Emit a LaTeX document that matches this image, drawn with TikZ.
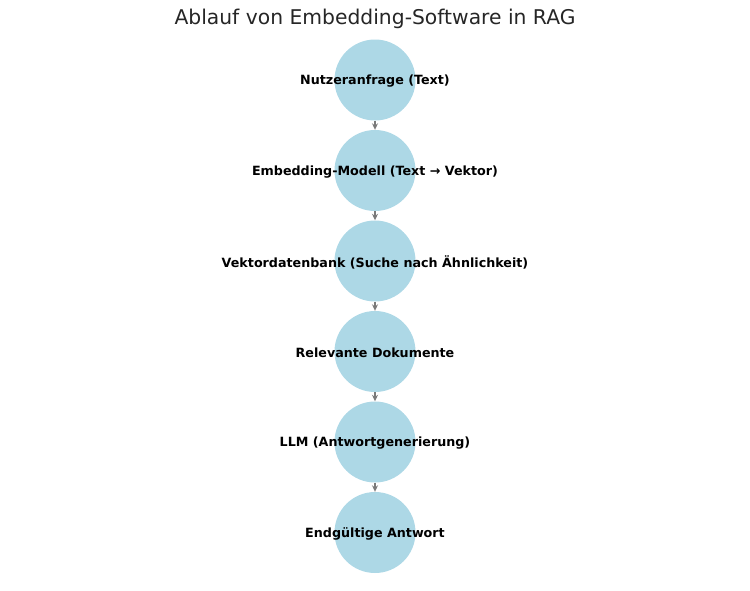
\documentclass[tikz,border=0pt]{standalone}
\usepackage{fontspec}
\setmainfont{DejaVu Sans}
\usetikzlibrary{arrows.meta}
\definecolor{lblue}{HTML}{ADD8E6}
\definecolor{edgegray}{HTML}{7A7A7A}
\begin{document}
\begin{tikzpicture}[x=1pt,y=-1pt,
  stage/.style={circle,fill=lblue,draw=none,minimum size=81pt,inner sep=0pt},
  lbl/.style={font=\fontsize{12.7}{15}\selectfont\bfseries,text=black,yshift=-1.5pt},
  conn/.style={draw=edgegray,line width=1.2pt,-{Stealth[length=6.5pt,width=6pt]}}]
\useasboundingbox (0,0) rectangle (750,590);
\node[font=\fontsize{20.3}{24}\selectfont,text={rgb,255:red,38;green,38;blue,38}] (title) at (375,19) {Ablauf von Embedding-Software in RAG};
\node[stage] (n1) at (375,80) {};
\node[stage] (n2) at (375,170.5) {};
\node[stage] (n3) at (375,261) {};
\node[stage] (n4) at (375,351.5) {};
\node[stage] (n5) at (375,442) {};
\node[stage] (n6) at (375,532.5) {};
\node[lbl] (t1) at (n1) {Nutzeranfrage (Text)};
\node[lbl] (t2) at (n2) {Embedding-Modell (Text → Vektor)};
\node[lbl] (t3) at (n3) {Vektordatenbank (Suche nach Ähnlichkeit)};
\node[lbl] (t4) at (n4) {Relevante Dokumente};
\node[lbl] (t5) at (n5) {LLM (Antwortgenerierung)};
\node[lbl] (t6) at (n6) {Endgültige Antwort};
\draw[conn] (n1) -- (n2);
\draw[conn] (n2) -- (n3);
\draw[conn] (n3) -- (n4);
\draw[conn] (n4) -- (n5);
\draw[conn] (n5) -- (n6);
\end{tikzpicture}
\end{document}
